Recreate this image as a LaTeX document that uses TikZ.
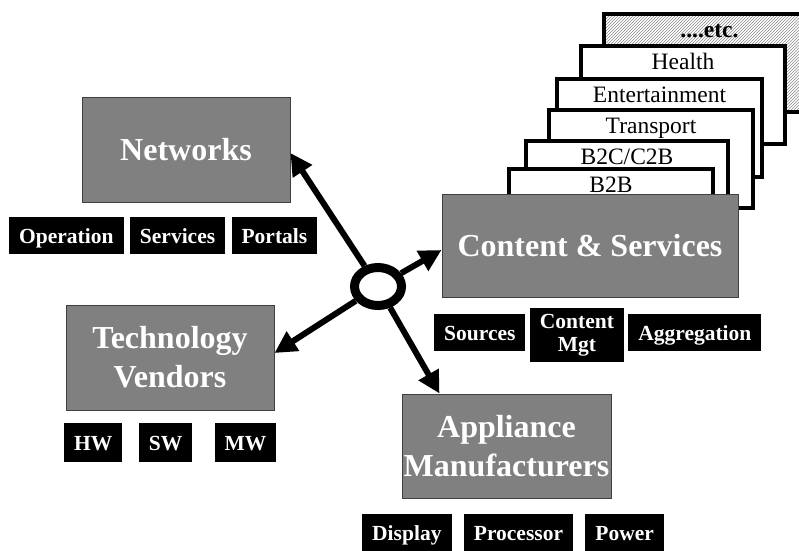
\documentclass[tikz,border=0pt]{standalone}
\usepackage{fontspec}
\setmainfont{Liberation Serif}
\usetikzlibrary{positioning, arrows.meta, shapes.geometric, patterns}

\begin{document}
\begin{tikzpicture}[
        x=1pt, y=-1pt,
        mainbox/.style={rectangle, draw=black!75, line width=1pt, fill=black!50, text=white, inner sep=1pt, align=center, font=\fontsize{32}{39}\selectfont\bfseries},
        tagbase/.style={rectangle, fill=black, text=white, inner xsep=10pt, inner ysep=0pt, minimum height=37pt, align=center, font=\fontsize{21.5}{23}\selectfont\bfseries},
        tagbox/.style={tagbase, text height=18pt, text depth=3pt},
        cardbox/.style={rectangle, draw, line width=4pt, fill=white, anchor=north west, inner sep=0pt, minimum height=98pt, text height=23pt, text depth=75pt, font=\fontsize{23.5}{26}\selectfont},
        hubring/.style={ellipse, draw, line width=9pt, fill=white, minimum width=47pt, minimum height=38pt, inner sep=0pt},
        arrow/.style={-{Triangle[length=22pt, width=22pt]}, line width=6pt}
    ]
        \useasboundingbox (0,0) rectangle (799,550);
        \clip (0,0) rectangle (799,550);

        % Content cards, back to front
        \node[cardbox, minimum width=211pt, pattern=north east lines, pattern color=black!45, font=\fontsize{23.5}{26}\selectfont\bfseries] (etc) at (602,12) {....etc.};
        \node[cardbox, minimum width=204pt] (health) at (579,44) {Health};
        \node[cardbox, minimum width=205pt] (enter) at (555,77) {Entertainment};
        \node[cardbox, minimum width=204pt] (trans) at (547,108) {Transport};
        \node[cardbox, minimum width=202pt] (btoc) at (524,139) {B2C/C2B};
        \node[cardbox, minimum width=204pt] (btob) at (507,167) {B2B};

        % Content & Services
        \node[mainbox, minimum width=296pt, minimum height=103pt] (cs) at (590,245.5) {Content \& Services};
        \node[tagbox, anchor=north west] (src) at (434,314) {Sources};
        \node[tagbase, right=4pt of src.north east, anchor=north west, yshift=6pt, inner ysep=3pt, minimum height=54pt] (cmgt) {Content\\Mgt};
        \node[tagbox, anchor=north west] (aggr) at ([xshift=4pt]cmgt.east |- src.north) {Aggregation};

        % Networks
        \node[mainbox, minimum width=208pt, minimum height=105pt] (net) at (186,149.5) {Networks};
        \node[tagbox, anchor=north west] (oper) at (9,217) {Operation};
        \node[tagbox, right=6pt of oper] (serv) {Services};
        \node[tagbox, right=6pt of serv] (port) {Portals};

        % Technology Vendors
        \node[mainbox, minimum width=208pt, minimum height=105pt] (tech) at (170,357.5) {Technology\\Vendors};
        \node[tagbox, anchor=north west, minimum height=39pt] (hw) at (64,423) {HW};
        \node[tagbox, minimum height=39pt, right=16pt of hw] (sw) {SW};
        \node[tagbox, minimum height=39pt, right=22pt of sw] (mw) {MW};

        % Appliance Manufacturers
        \node[mainbox, minimum width=209pt, minimum height=104pt] (appl) at (506.5,446) {Appliance\\Manufacturers};
        \node[tagbox, anchor=north west] (disp) at (362,514) {Display};
        \node[tagbox, right=12pt of disp] (proc) {Processor};
        \node[tagbox, right=12pt of proc] (powr) {Power};

        % Hub and arrows
        \node[hubring] (hub) at (378,286.5) {};
        \draw[arrow] (hub) -- ([yshift=-3.5pt]net.east);
        \draw[arrow] (hub) -- ([yshift=-4.5pt]cs.west);
        \draw[arrow] (hub) -- ([yshift=4.5pt]tech.east);
        \draw[arrow] (hub) -- ([xshift=38pt]appl.north west);
\end{tikzpicture}
\end{document}
